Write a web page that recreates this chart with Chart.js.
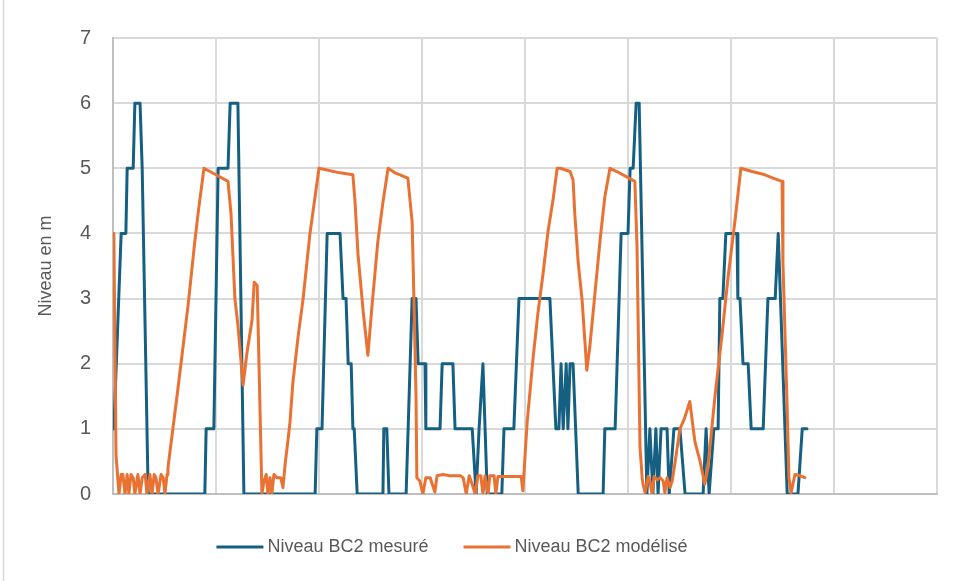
<!DOCTYPE html>
<html lang="fr">
<head>
<meta charset="utf-8">
<title>Niveau BC2</title>
<script src="https://cdn.jsdelivr.net/npm/chart.js@4.4.1/dist/chart.umd.min.js"></script>
<style>
  html, body { margin: 0; padding: 0; background: #ffffff; }
  #cadre { position: relative; width: 954px; height: 581px; }
</style>
</head>
<body>
<div id="cadre"><canvas id="graphique" width="954" height="581"></canvas></div>
<script>
// Temps en heures depuis le début de la période (une grille verticale par jour)
const tempsMesure = [0.2,1.9,3.0,3.3,4.7,5.1,6.3,6.8,8.2,21.4,21.7,23.5,24.5,26.8,27.3,29.1,30.5,47.1,47.5,48.7,49.9,52.9,53.6,54.3,54.8,55.5,55.9,56.2,56.9,62.9,63.1,63.8,64.3,68.3,69.7,70.6,71.1,72.7,72.9,76.2,76.7,79.2,79.7,83.7,84.6,85.3,86.2,87.2,90.6,91.1,93.4,94.6,101.8,102.5,103.2,103.9,104.4,104.9,105.6,106.0,106.5,107.2,108.4,114.2,114.6,117.0,118.4,120.0,120.5,121.2,121.9,122.6,124.4,125.1,125.8,126.5,127.0,127.7,129.1,129.6,130.7,132.1,133.3,137.5,138.2,138.9,140.0,141.0,141.4,142.1,142.8,145.4,145.6,146.1,146.8,148.0,148.7,151.5,152.6,154.3,155.0,157.1,159.6,160.6,161.7];
// Niveau mesuré (m), par paliers de 1 m
const niveauMesure = [1,4,4,5,5,6,6,5,0,0,1,1,5,5,6,6,0,0,1,1,4,4,3,3,2,2,1,1,0,0,1,1,0,0,3,3,2,2,1,1,2,2,1,1,0,1,2,0,0,1,1,3,3,2,1,1,2,1,2,1,2,2,0,0,1,1,4,4,5,5,6,6,0,1,0,1,0,1,1,0,1,1,0,0,1,0,1,1,3,3,4,4,3,3,2,2,1,1,3,3,4,0,0,1,1];

const tempsModele = [0.2,0.7,1.4,1.9,2.3,2.8,3.3,3.7,4.2,4.7,5.1,5.8,6.3,6.8,7.5,7.9,8.6,9.1,9.6,10.0,10.5,11.2,11.7,12.1,12.6,12.8,15.1,17.5,19.1,20.0,21.2,24.0,26.8,27.5,28.4,29.1,30.3,31.2,32.4,32.9,33.6,34.7,35.2,35.7,36.1,36.6,37.0,37.5,38.2,39.1,39.6,40.1,41.2,41.9,43.1,44.3,45.9,48.0,52.9,55.9,56.4,57.1,58.3,59.4,60.3,61.7,62.9,64.1,65.7,66.9,68.7,69.7,70.1,70.6,70.8,71.5,72.2,72.9,73.9,75.0,75.5,76.9,78.5,80.9,81.6,82.3,83.0,83.7,84.4,85.0,85.7,86.2,86.7,87.4,87.8,88.8,89.2,89.7,92.5,95.1,95.5,96.5,97.9,99.0,100.2,101.4,102.5,103.5,104.2,106.5,107.2,107.6,108.4,109.3,110.0,110.4,111.1,112.3,113.5,114.6,115.8,117.4,121.6,122.1,122.8,123.3,123.5,124.0,124.7,125.1,125.6,126.1,126.8,127.5,128.2,128.6,129.1,129.8,130.3,131.0,132.1,133.1,134.4,135.6,136.8,137.9,138.6,140.3,141.9,143.3,144.9,146.3,148.9,151.9,153.8,155.9,156.1,157.0,157.5,158.0,158.9,160.1,161.2];
// Niveau modélisé (m)
const niveauModele = [4.0,0.6,0.0,0.3,0.3,0.0,0.3,0.0,0.3,0.25,0.0,0.3,0.0,0.25,0.3,0.0,0.3,0.0,0.3,0.25,0.0,0.3,0.25,0.0,0.3,0.4,1.6,2.9,3.9,4.4,5.0,4.9,4.8,4.3,3.0,2.6,1.67,2.16,2.67,3.25,3.2,0.0,0.2,0.3,0.0,0.25,0.0,0.3,0.25,0.25,0.1,0.45,1.07,1.7,2.4,3.0,4.0,5.0,4.93,4.9,4.48,3.67,2.8,2.13,2.85,3.87,4.48,5.0,4.93,4.9,4.85,4.18,3.05,1.52,0.25,0.2,0.0,0.25,0.25,0.03,0.28,0.3,0.28,0.28,0.25,0.0,0.28,0.15,0.0,0.28,0.28,0.0,0.28,0.0,0.28,0.28,0.0,0.27,0.27,0.27,0.05,1.1,2.1,2.77,3.38,4.05,4.5,5.0,5.0,4.95,4.82,4.3,3.55,2.98,2.3,1.9,2.26,3.08,3.9,4.56,5.0,4.95,4.8,3.8,0.72,0.25,0.15,0.02,0.27,0.2,0.0,0.27,0.22,0.25,0.2,0.02,0.25,0.1,0.2,0.5,1.0,1.15,1.42,0.8,0.5,0.15,0.4,1.52,2.44,3.32,4.18,5.0,4.95,4.9,4.85,4.8,3.56,1.52,0.25,0.02,0.3,0.28,0.25];

const graduationsNiveau = [0, 1, 2, 3, 4, 5, 6, 7];
const nomsSeries = ['Niveau BC2 mesuré', 'Niveau BC2 modélisé'];
const couleursSeries = ['#156082', '#E97132'];

const POLICE = '"Liberation Sans", Arial, sans-serif';
const GRIS_TEXTE = '#595959';

const points = (xs, ys) => xs.map((x, i) => ({ x: x, y: ys[i] }));

// Trait gris à gauche du cadre du graphique
const bordureCadre = {
  id: 'bordureCadre',
  beforeDraw(chart) {
    const ctx = chart.ctx;
    ctx.save();
    ctx.strokeStyle = '#d9d9d9';
    ctx.lineWidth = 1.5;
    ctx.beginPath();
    ctx.moveTo(3.5, 0);
    ctx.lineTo(3.5, chart.height);
    ctx.stroke();
    ctx.restore();
  }
};

// Légende sous le graphique : trait coloré puis libellé de chaque série
const legendeBas = {
  id: 'legendeBas',
  afterDraw(chart) {
    const ctx = chart.ctx;
    const centre = 452, yLigne = 547, longTrait = 47, ecartTexte = 4, ecartItems = 35;
    ctx.save();
    ctx.font = '18px ' + POLICE;
    const largeurs = chart.data.datasets.map(d => ctx.measureText(d.label).width);
    const total = largeurs.reduce((s, w) => s + longTrait + ecartTexte + w, 0) + ecartItems * (largeurs.length - 1);
    let x = centre - total / 2;
    chart.data.datasets.forEach((d, i) => {
      ctx.strokeStyle = d.borderColor;
      ctx.lineWidth = 3;
      ctx.lineCap = 'butt';
      ctx.beginPath();
      ctx.moveTo(x, yLigne);
      ctx.lineTo(x + longTrait, yLigne);
      ctx.stroke();
      ctx.fillStyle = GRIS_TEXTE;
      ctx.textBaseline = 'middle';
      ctx.textAlign = 'left';
      ctx.fillText(d.label, x + longTrait + ecartTexte, yLigne);
      x += longTrait + ecartTexte + largeurs[i] + ecartItems;
    });
    ctx.restore();
  }
};

new Chart(document.getElementById('graphique'), {
  type: 'line',
  data: {
    datasets: [
      {
        label: nomsSeries[0],
        data: points(tempsMesure, niveauMesure),
        borderColor: couleursSeries[0],
        backgroundColor: couleursSeries[0],
        borderWidth: 3,
        pointRadius: 0,
        tension: 0,
        borderJoinStyle: 'round',
        borderCapStyle: 'round',
        order: 2
      },
      {
        label: nomsSeries[1],
        data: points(tempsModele, niveauModele),
        borderColor: couleursSeries[1],
        backgroundColor: couleursSeries[1],
        borderWidth: 3,
        pointRadius: 0,
        tension: 0,
        borderJoinStyle: 'round',
        borderCapStyle: 'round',
        order: 1
      }
    ]
  },
  options: {
    responsive: false,
    animation: false,
    devicePixelRatio: 1,
    layout: { padding: { left: 0, top: 38, right: 17, bottom: 0 } },
    plugins: {
      legend: { display: false },
      tooltip: { enabled: false }
    },
    scales: {
      x: {
        type: 'linear',
        min: 0,
        max: 192,
        ticks: { display: false, stepSize: 24 },
        grid: { color: '#d9d9d9', lineWidth: 2, drawTicks: false },
        border: { display: true, color: '#bfbfbf', width: 2 },
        afterFit(scale) { scale.height = 87; }
      },
      y: {
        min: 0,
        max: 7,
        afterBuildTicks(scale) { scale.ticks = graduationsNiveau.map(v => ({ value: v })); },
        ticks: {
          color: GRIS_TEXTE,
          font: { family: POLICE, size: 20 },
          padding: 22
        },
        grid: { color: '#d9d9d9', lineWidth: 2, drawTicks: false },
        border: { display: true, color: '#bfbfbf', width: 2 },
        title: {
          display: true,
          text: 'Niveau en m',
          color: GRIS_TEXTE,
          font: { family: POLICE, size: 18 },
          padding: { top: 35, bottom: 0 }
        },
        afterFit(scale) { scale.width = 113; }
      }
    }
  },
  plugins: [bordureCadre, legendeBas]
});
</script>
</body>
</html>
